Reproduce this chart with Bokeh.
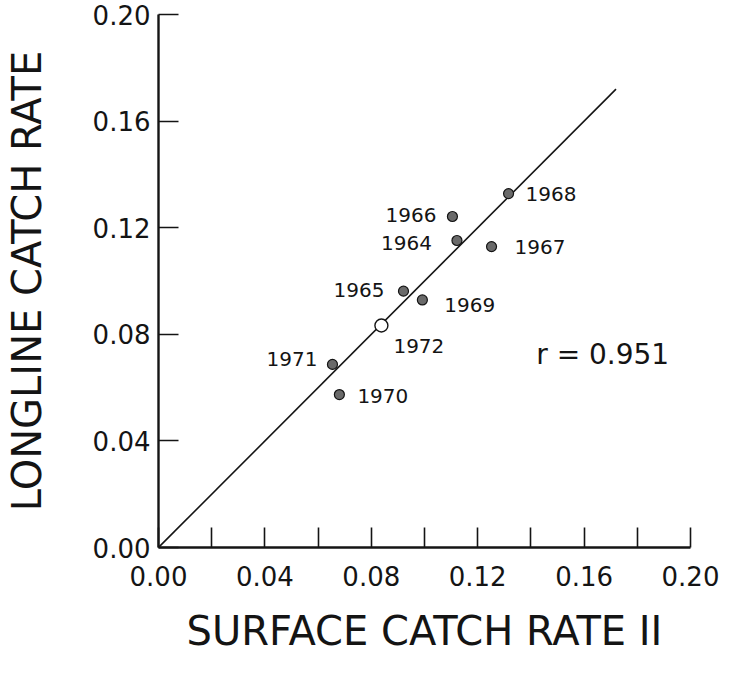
from bokeh.plotting import figure
from bokeh.models import Range1d, FixedTicker, Label, ColumnDataSource, NumeralTickFormatter
from bokeh.core.properties import value
from bokeh.embed import file_html
from bokeh.resources import INLINE

# ---- data ----
years = ["1964", "1965", "1966", "1967", "1968", "1969", "1970", "1971", "1972"]
surface = [0.1122, 0.0921, 0.1105, 0.1252, 0.1316, 0.0992, 0.0680, 0.0654, 0.0838]
longline = [0.1152, 0.0962, 0.1242, 0.1129, 0.1328, 0.0929, 0.0574, 0.0687, 0.0833]
hollow_years = ["1972"]

fit_x = [0.0, 0.172]
fit_y = [0.0, 0.172]
r_text = "r = 0.951"

x_ticks = [0.0, 0.04, 0.08, 0.12, 0.16, 0.20]
x_minor = [0.02, 0.06, 0.10, 0.14, 0.18]
y_ticks = [0.0, 0.04, 0.08, 0.12, 0.16, 0.20]

# label placement (screen px offsets, style only)
label_place = {
    "1964": (-25, 3, "right"),
    "1965": (-19, -1, "right"),
    "1966": (-16, -2, "right"),
    "1967": (23, 0, "left"),
    "1968": (17, 0, "left"),
    "1969": (22, 5, "left"),
    "1970": (18, 1, "left"),
    "1971": (-15, -5, "right"),
    "1972": (12, 20, "left"),
}

INK = "#141414"
FONT = "DejaVu Sans"

p = figure(frame_width=532, frame_height=533,
           x_range=Range1d(0, 0.20), y_range=Range1d(0, 0.20),
           output_backend="svg", toolbar_location=None,
           min_border_left=153, min_border_right=29,
           min_border_top=14, min_border_bottom=114)
p.outline_line_color = None
p.grid.grid_line_color = None
p.background_fill_color = "white"
p.border_fill_color = "white"

# axes
for ax in (p.xaxis[0], p.yaxis[0]):
    ax.axis_line_color = INK
    ax.axis_line_width = 2.4
    ax.major_tick_line_color = INK
    ax.major_tick_line_width = 1.6
    ax.major_tick_in = 20
    ax.major_tick_out = 0
    ax.major_label_text_font = FONT
    ax.major_label_text_font_size = "26px"
    ax.major_label_text_color = INK
    ax.axis_label_text_font = FONT
    ax.axis_label_text_font_size = "40px"
    ax.axis_label_text_font_style = "normal"
    ax.axis_label_text_color = INK
    ax.formatter = NumeralTickFormatter(format="0.00")

p.xaxis.ticker = FixedTicker(ticks=x_ticks, minor_ticks=x_minor)
p.xaxis.minor_tick_line_color = INK
p.xaxis.minor_tick_line_width = 1.6
p.xaxis.minor_tick_in = 20
p.xaxis.minor_tick_out = 0
p.xaxis.major_label_standoff = 18
p.xaxis.axis_label = "SURFACE CATCH RATE II"
p.xaxis.axis_label_standoff = 19

p.yaxis.ticker = FixedTicker(ticks=y_ticks)
p.yaxis.minor_tick_line_color = None
p.yaxis.major_label_standoff = 8
p.yaxis.major_label_orientation = "horizontal"
p.yaxis.axis_label = "LONGLINE CATCH RATE"
p.yaxis.axis_label_standoff = 40

# regression line
p.line(fit_x, fit_y, line_color=INK, line_width=1.6)

# points
filled = ColumnDataSource(dict(
    x=[sx for sx, yr in zip(surface, years) if yr not in hollow_years],
    y=[ly for ly, yr in zip(longline, years) if yr not in hollow_years]))
hollow = ColumnDataSource(dict(
    x=[sx for sx, yr in zip(surface, years) if yr in hollow_years],
    y=[ly for ly, yr in zip(longline, years) if yr in hollow_years]))
p.scatter("x", "y", source=filled, size=10, fill_color="#6a6a6a",
          line_color=INK, line_width=1.2)
p.scatter("x", "y", source=hollow, size=13, fill_color="white",
          line_color=INK, line_width=1.4)

# year labels
for align in ("left", "right"):
    sel = [i for i, yr in enumerate(years) if label_place[yr][2] == align]
    src = ColumnDataSource(dict(
        x=[surface[i] for i in sel],
        y=[longline[i] for i in sel],
        t=[years[i] for i in sel],
        dx=[label_place[years[i]][0] for i in sel],
        dy=[label_place[years[i]][1] for i in sel]))
    p.text("x", "y", text="t", source=src, x_offset="dx", y_offset="dy",
           text_align=align, text_baseline="middle",
           text_font=value(FONT), text_font_size="20px", text_color=INK)

p.add_layout(Label(x=0.142, y=0.0724, text=r_text, text_align="left",
                   text_baseline="middle", text_font=FONT,
                   text_font_size="28px", text_color=INK))

open("out.html", "w").write(file_html(p, INLINE))
